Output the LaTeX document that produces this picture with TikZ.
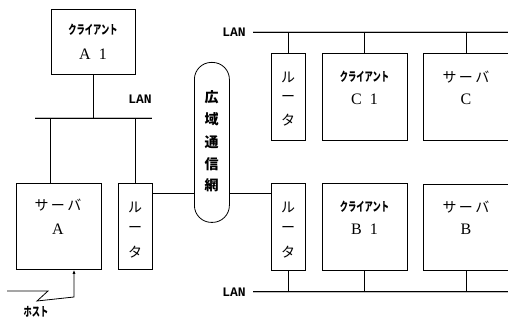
\documentclass[tikz,border=0pt]{standalone}
\usepackage{fontspec}
\setmainfont{Liberation Serif}
\newfontfamily\jp{Noto Sans CJK JP}
\newfontfamily\lanfont{Liberation Mono}
\usetikzlibrary{arrows.meta}
\begin{document}
\begin{tikzpicture}[x=1pt,y=-1pt,
  box/.style={draw,line width=0.8pt,inner sep=0pt,anchor=north west},
  lan/.style={line width=0.5pt,double distance=1pt,draw=black,double=gray!50},
  wire/.style={line width=0.8pt},
  jt/.style={font=\jp\fontsize{14}{14}\selectfont,inner sep=0pt},
  jb/.style={font=\jp\bfseries\fontsize{14}{14}\selectfont,inner sep=0pt},
  ct/.style={font=\jp\bfseries\fontsize{12.5}{12.5}\selectfont,inner sep=0pt,xscale=0.66},
  lt/.style={font=\fontsize{16}{16}\selectfont,inner sep=0pt},
  lanlbl/.style={font=\lanfont\bfseries\fontsize{13}{13}\selectfont,inner sep=0pt}]
\useasboundingbox (0,0) rectangle (508,320);
% boxes
\node[box,minimum width=84pt,minimum height=65pt] (a1) at (51,9) {};
\node[box,minimum width=85pt,minimum height=86pt] (srvA) at (16,183) {};
\node[box,minimum width=34pt,minimum height=86pt] (rtA) at (118,183) {};
\node[box,rounded corners=17pt,minimum width=35pt,minimum height=160pt] (wan) at (194,62) {};
\node[box,minimum width=34pt,minimum height=87pt] (rtC) at (271,53) {};
\node[box,minimum width=85pt,minimum height=87pt] (c1) at (322,53) {};
\node[box,minimum width=95pt,minimum height=87pt] (srvC) at (423,53) {};
\node[box,minimum width=34pt,minimum height=87pt] (rtB) at (271,183) {};
\node[box,minimum width=85pt,minimum height=87pt] (b1) at (322,183) {};
\node[box,minimum width=95pt,minimum height=86pt] (srvB) at (423,184) {};
% texts
\node[ct] (ta1) at (93,30) {クライアント};
\node[lt] (ta1b) at (93,54) {A\,\,\,1};
\node[jt] (tsa) at (58,205) {サ\,ー\,バ};
\node[lt] (tsab) at (58,229) {A};
\node[jt] (tra1) at (135,207) {ル};
\node[jt] (tra2) at (135,229) {ー};
\node[jt] (tra3) at (135,252) {タ};
\node[jb] (w1) at (211.5,97) {広};
\node[jb] (w2) at (211.5,119) {域};
\node[jb] (w3) at (211.5,142) {通};
\node[jb] (w4) at (211.5,164) {信};
\node[jb] (w5) at (211.5,185) {網};
\node[jt] (trc1) at (288,77) {ル};
\node[jt] (trc2) at (288,98) {ー};
\node[jt] (trc3) at (288,120) {タ};
\node[ct] (tc1) at (364.5,77) {クライアント};
\node[lt] (tc1b) at (364.5,99) {C\,\,\,1};
\node[jt] (tsc) at (466,77) {サ\,ー\,バ};
\node[lt] (tscb) at (466,99) {C};
\node[jt] (trb1) at (288,207) {ル};
\node[jt] (trb2) at (288,229) {ー};
\node[jt] (trb3) at (288,252) {タ};
\node[ct] (tb1) at (364.5,207) {クライアント};
\node[lt] (tb1b) at (364.5,229) {B\,\,\,1};
\node[jt] (tsb) at (466,207) {サ\,ー\,バ};
\node[lt] (tsbb) at (466,229) {B};
\node[lanlbl] (lanA) at (140,99) {LAN};
\node[lanlbl] (lanC) at (234,32) {LAN};
\node[lanlbl] (lanB) at (234,292) {LAN};
\node[ct] (host) at (36,312) {ホスト};
% LAN buses
\coordinate (la1) at (35,118); \coordinate (la2) at (152,118);
\draw[lan] (la1) -- (la2);
\coordinate (lc1) at (253,32); \coordinate (lc2) at (510,32);
\draw[lan] (lc1) -- (lc2);
\coordinate (lb1) at (253,292); \coordinate (lb2) at (510,292);
\draw[lan] (lb1) -- (lb2);
% drops
\draw[wire] (a1.south) -- (a1.south |- la1);
\draw[wire] (srvA.north west) ++(34,0) coordinate (sAt) -- (sAt |- la1);
\draw[wire] (rtA.north) -- (rtA.north |- la1);
\draw[wire] (rtC.north) -- (rtC.north |- lc1);
\draw[wire] (c1.north) ++(-0.5,0) coordinate (c1t) -- (c1t |- lc1);
\draw[wire] (srvC.north west) ++(43,0) coordinate (sCt) -- (sCt |- lc1);
\draw[wire] (rtB.south) -- (rtB.south |- lb1);
\draw[wire] (b1.south) ++(-1,0) coordinate (b1b) -- (b1b |- lb1);
\draw[wire] (srvB.south west) ++(43,0) coordinate (sBb) -- (sBb |- lb1);
% WAN links
\coordinate (ra) at (152,193);
\draw[wire] (ra) -- (ra -| wan.west);
\coordinate (rb) at (271,193);
\draw[wire] (rb -| wan.east) -- (rb);
% host line
\coordinate (h0) at (7,291);
\coordinate (h1) at (48,291);
\coordinate (h2) at (37,301);
\coordinate (h3) at (74,297);
\draw[wire,-{Latex[length=4pt,width=3pt]}] (h0) -- (h1) -- (h2) -- (h3) -- (h3 |- srvA.south);
\end{tikzpicture}
\end{document}
